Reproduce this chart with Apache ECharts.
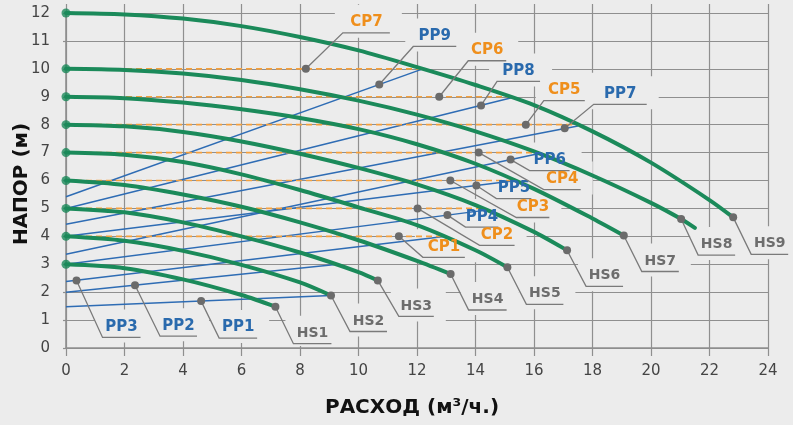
<!DOCTYPE html>
<html><head><meta charset="utf-8">
<script src="https://cdn.jsdelivr.net/npm/echarts@6/dist/echarts.min.js"></script>
<style>html,body{margin:0;padding:0;background:#ececec}#c{width:793px;height:425px}</style>
</head><body><div id="c"></div>
<script>
// ---- data ----
const hsNames = ['HS1','HS2','HS3','HS4','HS5','HS6','HS7','HS8','HS9'];
const hs1 = [[0,3],[2,2.86],[4,2.46],[6,1.9],[7.16,1.48]];
const hs2 = [[0,4],[2,3.84],[4,3.48],[6,2.98],[8,2.35],[9.06,1.88]];
const hs3 = [[0,5],[2,4.86],[4,4.5],[6,4.0],[8,3.42],[10,2.72],[10.66,2.42]];
const hs4 = [[0,6],[2,5.84],[4,5.5],[6,5.06],[8,4.5],[10,3.86],[12,3.12],[13.15,2.65]];
const hs5 = [[0,7],[2,6.92],[4,6.66],[6,6.22],[8,5.66],[10,5.04],[12,4.4],[14,3.5],[15.09,2.89]];
const hs6 = [[0,8],[2,7.94],[4,7.74],[6,7.4],[8,6.96],[10,6.45],[12,5.86],[14,5.12],[16,4.16],[17.13,3.5]];
const hs7 = [[0,9],[2,8.95],[4,8.79],[6,8.55],[8,8.24],[10,7.84],[12,7.3],[14,6.6],[16,5.7],[18,4.64],[19.07,4.03]];
const hs8 = [[0,10],[2,9.96],[4,9.83],[6,9.6],[8,9.27],[10,8.86],[12,8.36],[14,7.76],[16,7.04],[18,6.18],[20,5.2],[21.03,4.62],[21.5,4.3]];
const hs9 = [[0,12],[2,11.95],[4,11.8],[6,11.53],[8,11.14],[10,10.66],[12,10.06],[14,9.42],[16,8.7],[18,7.76],[20,6.64],[22,5.3],[22.81,4.68]];
const hsCurves = [hs1,hs2,hs3,hs4,hs5,hs6,hs7,hs8,hs9];
const hsEndDots = [[7.16,1.48],[9.06,1.88],[10.66,2.42],[13.15,2.65],[15.09,2.89],[17.13,3.5],[19.07,4.03],[21.03,4.62],[22.81,4.68]];

const ppNames = ['PP1','PP2','PP3','PP4','PP5','PP6','PP7','PP8','PP9'];
const ppStart = [1.48,2.0,2.38,3.0,4.0,3.36,4.43,5.0,5.42];
const ppEndX  = [9.06,9.3,13.0,14.3,15.2,16.1,17.5,15.3,12.2];
const ppEndY  = [1.88,3.0,4.0,4.93,5.97,6.95,7.95,8.98,10.0];
const ppDots  = [[4.62,1.68],[2.36,2.25],[0.36,2.42],[13.04,4.76],[14.03,5.82],[15.2,6.75],[17.05,7.87],[14.19,8.69],[10.71,9.44]];

const cpNames = ['CP1','CP2','CP3','CP4','CP5','CP6','CP7'];
const cpHead  = [4,5,6,7,8,9,10];
const cpEndX  = [13.0,14.3,15.2,16.1,17.5,15.3,12.2];
const cpDots  = [[11.38,4],[12.02,5],[13.14,6],[14.11,7],[15.72,8],[12.76,9],[8.2,10]];

const yAxisTitle = 'НАПОР (м)';
const xAxisTitle = 'РАСХОД (м³/ч.)';

// ---- layout of the callouts (pixel offsets from the dot: elbow dx, elbow dy, underline length) ----
const leaderLayout = {
  PP1:[18,37,38], PP2:[25,51,37], PP3:[26,57,38], PP4:[18,12,33], PP5:[20,13,35],
  PP6:[19,11,40], PP7:[29,-24,53], PP8:[16,-24,43], PP9:[34,-38,43],
  CP1:[24,21,42], CP2:[62,37,35], CP3:[66,37,33], CP4:[65,37,37], CP5:[18,-24,41],
  CP6:[29,-36,38], CP7:[37,-36,47],
  HS1:[18,37,38], HS2:[19,36,37], HS3:[21,36,35], HS4:[18,36,38], HS5:[19,37,37],
  HS6:[19,36,37], HS7:[18,36,37], HS8:[17,36,37], HS9:[18,37,37]
};

const BG = '#ececec', GREEN = '#1b8a5a', BLUE = '#2e6cb4', ORANGE = '#f5a03c';
const GRID = '#8f8f8f';
const labelColor = {PP:'#2a6aad', CP:'#ef8f1c', HS:'#6d6d6d'};

// annotation items
const annoItems = [];
ppNames.forEach((n,i)=>annoItems.push({name:n, value:ppDots[i]}));
cpNames.forEach((n,i)=>annoItems.push({name:n, value:cpDots[i]}));
hsNames.forEach((n,i)=>annoItems.push({name:n, value:hsEndDots[i]}));

function geom(params, api){
  const item = annoItems[params.dataIndex];
  const p = api.coord([api.value(0), api.value(1)]);
  const L = leaderLayout[item.name];
  const e = [p[0]+L[0], p[1]+L[1]];
  const end = [e[0]+L[2], e[1]];
  return {item, p, e, end, L};
}

const series = [];
// background boxes behind callout texts (mask the grid)
series.push({
  type:'custom', coordinateSystem:'cartesian2d', z:1, silent:true, clip:false,
  data: annoItems.map(a=>a.value),
  renderItem(params, api){
    const g = geom(params, api);
    const bottomLimit = api.coord([0,0])[1] - 2;
    const y0 = g.e[1]-28, y1 = Math.min(g.e[1]+5, bottomLimit);
    return {type:'rect', shape:{x:g.e[0]-8, y:y0, width:g.L[2]+20, height:y1-y0}, style:{fill:BG}};
  }
});
// blue system lines
ppNames.forEach((n,i)=>series.push({
  name:n, type:'line', z:2, symbol:'none', silent:true,
  data:[[0,ppStart[i]],[ppEndX[i],ppEndY[i]]],
  lineStyle:{color:BLUE, width:1.5}
}));
// orange dashed lines
cpNames.forEach((n,i)=>series.push({
  name:n, type:'line', z:2, symbol:'none', silent:true,
  data:[[0,cpHead[i]],[cpEndX[i],cpHead[i]]],
  lineStyle:{color:ORANGE, width:1.6, type:[6,4]}
}));
// green pump curves
hsNames.forEach((n,i)=>series.push({
  name:n, type:'line', z:3, symbol:'none', smooth:0.3, silent:true,
  data:hsCurves[i],
  lineStyle:{color:GREEN, width:4, cap:'round'}
}));
// green start dots
series.push({
  type:'scatter', z:4, silent:true, symbolSize:9,
  data: hsCurves.map(c=>c[0]),
  itemStyle:{color:GREEN}
});
// callouts
series.push({
  type:'custom', coordinateSystem:'cartesian2d', z:6, silent:true, clip:false,
  data: annoItems.map(a=>a.value),
  renderItem(params, api){
    const g = geom(params, api);
    const kind = g.item.name.slice(0,2);
    const fs = kind==='HS' ? 14 : 15;
    return {type:'group', children:[
      {type:'polyline', shape:{points:[g.p, g.e, g.end]}, style:{stroke:'#7a7a7a', lineWidth:1.3, fill:null}},
      {type:'circle', shape:{cx:g.p[0], cy:g.p[1], r:4}, style:{fill:'#6b6b6b'}},
      {type:'text', x:(g.e[0]+g.end[0])/2, y:g.e[1]-10.5,
        style:{text:g.item.name, fill:labelColor[kind], font:'bold '+fs+'px "DejaVu Sans"', align:'center', verticalAlign:'middle'}}
    ]};
  }
});

const chart = echarts.init(document.getElementById('c'), null, {renderer:'canvas'});
chart.setOption({
  backgroundColor: BG,
  animation:false,
  grid:{left:66, right:25, top:13, bottom:77, containLabel:false, outerBoundsMode:'none'},
  graphic:[
    {type:'text', x:22, y:184, rotation:Math.PI/2, silent:true,
      style:{text:yAxisTitle, fill:'#111', font:'bold 20px "DejaVu Sans"', align:'center', verticalAlign:'middle'}},
    {type:'text', x:412, y:408, silent:true,
      style:{text:xAxisTitle, fill:'#111', font:'bold 20px "DejaVu Sans"', align:'center', verticalAlign:'middle'}}
  ],
  xAxis:[{
    type:'value', min:0, max:24, interval:2,
    axisLine:{lineStyle:{color:GRID, width:1.6}},
    axisTick:{show:true, length:8, lineStyle:{color:GRID, width:1.2}},
    axisLabel:{fontFamily:'DejaVu Sans', fontSize:15, color:'#444', margin:16},
    splitLine:{show:true, lineStyle:{color:GRID, width:1.2}}
  },{
    type:'value', position:'top', min:0, max:24, interval:2,
    axisLine:{show:false},
    axisTick:{show:true, length:9, lineStyle:{color:GRID, width:1.2}},
    axisLabel:{show:false}, splitLine:{show:false}
  }],
  yAxis:{
    type:'value', min:0, max:12, interval:1,
    axisLine:{show:true, lineStyle:{color:GRID, width:1.6}},
    axisTick:{show:true, length:3, lineStyle:{color:GRID, width:1.2}},
    axisLabel:{fontFamily:'DejaVu Sans', fontSize:15, color:'#444', margin:16},
    splitLine:{show:true, lineStyle:{color:GRID, width:1.2}}
  },
  series: series
});
</script>
</body></html>
